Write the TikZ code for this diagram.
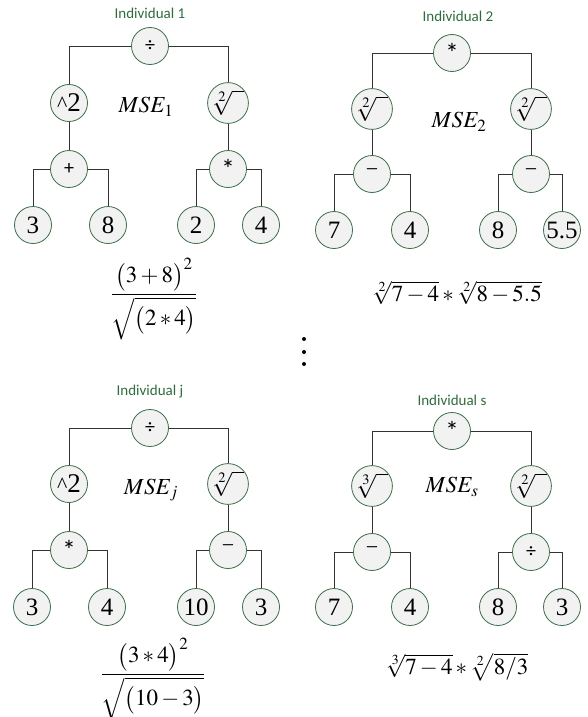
\documentclass[tikz,border=0pt]{standalone}
\usepackage{amsmath}
\usepackage{mathptmx}
\usepackage{fontspec}
\setmainfont{Liberation Serif}
\newfontfamily\calibri{Carlito}
\definecolor{treegreen}{HTML}{3F6E4A}
\definecolor{labelgreen}{HTML}{2F6B3E}
\definecolor{nodefill}{HTML}{F2F2F2}
\definecolor{linkc}{HTML}{333333}
\newcommand{\opsym}[1]{{\calibri\fontsize{20}{20}\selectfont #1}}
\newcommand{\astop}{{\calibri\fontsize{27}{27}\selectfont\raisebox{-3pt}{*}}}
\newcommand{\minop}{{\fontsize{22}{22}\selectfont\raisebox{2pt}{−}}}
\newcommand{\rootop}[1]{{\fontsize{24}{24}\selectfont$\sqrt[#1]{\phantom{0}}$}}
\newcommand{\sqop}{{\fontsize{22}{22}\selectfont\textasciicircum}{\fontsize{27}{27}\selectfont 2}}
\tikzset{
  gnode/.style={circle,draw=treegreen,fill=nodefill,line width=0.8pt,
    minimum size=37pt,inner sep=0pt,font=\fontsize{25}{25}\selectfont},
  link/.style={draw=linkc,line width=0.8pt},
  indlab/.style={font=\calibri\fontsize{15}{15}\selectfont,text=labelgreen},
  mse/.style={font=\fontsize{23}{23}\selectfont},
  expr/.style={font=\fontsize{23}{25}\selectfont},
}
\begin{document}
\begin{tikzpicture}[x=1pt,y=-1pt]
  \useasboundingbox (0,0) rectangle (587,717);
  % individual 1
  \node[indlab] (la) at (150,13){Individual 1};
  \node[gnode] (a0) at (150, 46){\opsym{÷}};
  \node[gnode] (a1) at ( 69,103){\sqop};
  \node[gnode] (a2) at (228,103){\rootop{2}};
  \node[gnode] (a3) at ( 69,169){\opsym{+}};
  \node[gnode] (a4) at (228,169){\astop};
  \node[gnode] (a5) at ( 33,225){3};
  \node[gnode] (a6) at (108,225){8};
  \node[gnode] (a7) at (196,225){2};
  \node[gnode] (a8) at (261,225){4};
  \node[mse] (ma) at (146,107){$MSE_1$};
  \node[expr] (fa) at (154,299){$\dfrac{\bigl(3+8\bigr)^2}{\sqrt{\bigl(2*4\bigr)}}$};
  % individual 2
  \node[indlab] (lb) at (458,16){Individual 2};
  \node[gnode] (b0) at (452, 53){\astop};
  \node[gnode] (b1) at (372,109){\rootop{2}};
  \node[gnode] (b2) at (531,109){\rootop{2}};
  \node[gnode] (b3) at (372,174){\minop};
  \node[gnode] (b4) at (531,174){\minop};
  \node[gnode] (b5) at (334,230){7};
  \node[gnode] (b6) at (410,230){4};
  \node[gnode] (b7) at (498,230){8};
  \node[gnode] (b8) at (562,230){5.5};
  \node[mse] (mb) at (459,122){$MSE_2$};
  \node[expr] (fb) at (457,293){$\sqrt[2]{7-4}*\sqrt[2]{8-5.5}$};
  % the ones in between
  \foreach \y in {339,352,364}
    \fill (304,\y) circle (2);
  % individual j
  \node[indlab] (lj) at (150,392){Individual j};
  \node[gnode] (j0) at (150,428){\opsym{÷}};
  \node[gnode] (j1) at ( 69,484){\sqop};
  \node[gnode] (j2) at (228,484){\rootop{2}};
  \node[gnode] (j3) at ( 69,550){\astop};
  \node[gnode] (j4) at (228,550){\minop};
  \node[gnode] (j5) at ( 32,607){3};
  \node[gnode] (j6) at (107,607){4};
  \node[gnode] (j7) at (196,607){10};
  \node[gnode] (j8) at (261,607){3};
  \node[mse] (mj) at (151,490){$MSE_j$};
  \node[expr] (fj) at (153,679){$\dfrac{\bigl(3*4\bigr)^2}{\sqrt{\bigl(10-3\bigr)}}$};
  % individual s
  \node[indlab] (ls) at (452,400){Individual s};
  \node[gnode] (s0) at (452,431){\astop};
  \node[gnode] (s1) at (372,486){\rootop{3}};
  \node[gnode] (s2) at (531,486){\rootop{2}};
  \node[gnode] (s3) at (372,552){\minop};
  \node[gnode] (s4) at (531,552){\opsym{÷}};
  \node[gnode] (s5) at (334,607){7};
  \node[gnode] (s6) at (410,607){4};
  \node[gnode] (s7) at (498,607){8};
  \node[gnode] (s8) at (562,607){3};
  \node[mse] (ms) at (452,487){$MSE_s$};
  \node[expr] (fs) at (457,667){$\sqrt[3]{7-4}*\sqrt[2]{8/3}$};
  % tree edges
  \foreach \t in {a,b,j,s}{
    \draw[link] (\t0) -| (\t1);
    \draw[link] (\t0) -| (\t2);
    \draw[link] (\t1) -- (\t3);
    \draw[link] (\t2) -- (\t4);
    \draw[link] (\t3) -| (\t5);
    \draw[link] (\t3) -| (\t6);
    \draw[link] (\t4) -| (\t7);
    \draw[link] (\t4) -| (\t8);
  }
\end{tikzpicture}
\end{document}
